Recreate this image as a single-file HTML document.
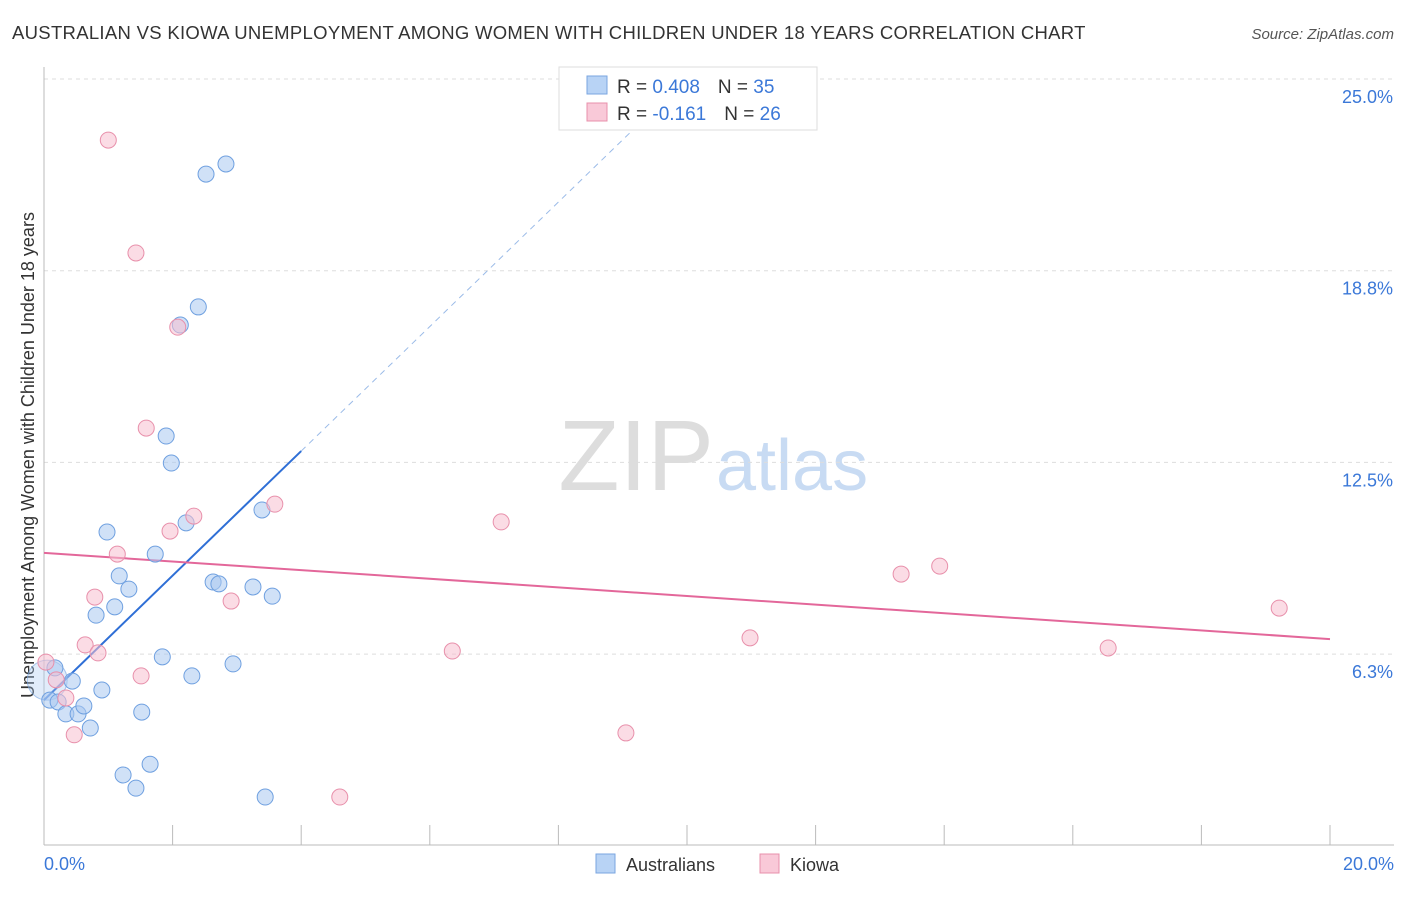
<!DOCTYPE html>
<html><head><meta charset="utf-8"><style>
body{margin:0;background:#fff;font-family:"Liberation Sans",sans-serif}
svg text{font-family:"Liberation Sans",sans-serif}
</style></head><body>
<svg id="chart" width="1406" height="892">
<text x="12" y="39" font-size="18.5" letter-spacing="0.3" fill="#333">AUSTRALIAN VS KIOWA UNEMPLOYMENT AMONG WOMEN WITH CHILDREN UNDER 18 YEARS CORRELATION CHART</text>
<text x="1394" y="39" font-size="15" fill="#555" text-anchor="end" font-style="italic">Source: ZipAtlas.com</text>
<text x="714" y="490" font-size="100" fill="#ddd" text-anchor="end" font-family="Liberation Serif">ZIP</text>
<text x="716" y="490" font-size="72" fill="#c8dbf3">atlas</text>
<g id="grid"></g>
<line x1="44" y1="67" x2="44" y2="845" stroke="#bbb"/>
<line x1="44" y1="845" x2="1394" y2="845" stroke="#bbb"/>
<g id="xticks"></g>
<text x="44" y="870" font-size="18" fill="#3b78d8">0.0%</text>
<text x="1394" y="870" font-size="18" fill="#3b78d8" text-anchor="end">20.0%</text>
<text transform="translate(34,455) rotate(-90)" font-size="18" fill="#333" text-anchor="middle">Unemployment Among Women with Children Under 18 years</text>
<g id="trends"></g>
<g id="points"></g>
<g>
<rect x="559" y="67" width="258" height="63" fill="#fff" stroke="#ddd"/>
<rect x="587" y="76" width="20" height="18" fill="#b8d3f5" stroke="#7aa6e0"/>
<text x="617" y="93" font-size="19" fill="#333">R = <tspan fill="#3b78d8">0.408</tspan><tspan dx="18">N = </tspan><tspan fill="#3b78d8">35</tspan></text>
<rect x="587" y="103" width="20" height="18" fill="#f9c9d8" stroke="#e890ab"/>
<text x="617" y="120" font-size="19" fill="#333">R = <tspan fill="#3b78d8">-0.161</tspan><tspan dx="18">N = </tspan><tspan fill="#3b78d8">26</tspan></text>
</g>
<g>
<rect x="596" y="854" width="19" height="19" fill="#b8d3f5" stroke="#7aa6e0"/>
<text x="626" y="871" font-size="18" fill="#333">Australians</text>
<rect x="760" y="854" width="19" height="19" fill="#f9c9d8" stroke="#e890ab"/>
<text x="790" y="871" font-size="18" fill="#333">Kiowa</text>
</g>
</svg>
<script>
const blueX=[0.09,0.17,0.22,0.34,0.44,0.53,0.62,0.72,0.81,0.90,0.98,1.10,1.17,1.23,1.32,1.43,1.52,1.65,1.73,1.84,1.90,1.98,2.12,2.21,2.30,2.40,2.52,2.63,2.72,2.83,2.94,3.25,3.39,3.44,3.55];
const blueY=[4.75,5.80,4.69,4.30,5.37,4.30,4.56,3.84,7.52,5.08,10.23,7.79,8.80,2.31,8.37,1.88,4.36,2.66,9.51,6.16,13.36,12.48,16.98,10.53,5.54,17.57,21.90,8.60,8.54,22.23,5.93,8.44,10.95,1.59,8.14];
const pinkX=[0.03,0.19,0.34,0.47,0.64,0.79,0.84,1.00,1.14,1.43,1.51,1.59,1.96,2.08,2.33,2.91,3.59,4.60,6.35,7.11,9.05,10.98,13.33,13.93,16.55,19.21];
const pinkY=[5.99,5.41,4.82,3.62,6.55,8.11,6.29,23.01,9.51,19.33,5.54,13.62,10.26,16.91,10.75,7.98,11.14,1.59,6.35,10.56,3.68,6.78,8.86,9.12,6.45,7.75];
const yTicks=[25.0,18.8,12.5,6.3];
const yTickVals=[25,18.75,12.5,6.25];
const xTicks=[0,2,4,6,8,10,12,14,16,18,20];
const blueTrend=[4.75,2.03];
const pinkTrend=[9.55,6.74];
const NS='http://www.w3.org/2000/svg';
const sx=v=>44+v*64.3, sy=v=>845.8-v*30.67;
function mk(t,a,p){const e=document.createElementNS(NS,t);for(const k in a)e.setAttribute(k,a[k]);p.appendChild(e);return e;}
const grid=document.getElementById('grid');
yTickVals.forEach((v,i)=>{
 const l=mk('line',{x1:44,x2:1394,y1:sy(v),y2:sy(v),stroke:'#ddd','stroke-dasharray':'4,4'},grid);
 
 
 const t=mk('text',{x:1393,y:sy(v)+24,'font-size':18,fill:'#3b78d8','text-anchor':'end'},grid);
 t.textContent=yTicks[i].toFixed(1)+'%';
 
 
});
const xt=document.getElementById('xticks');
xTicks.forEach(v=>{
 const l=mk('line',{x1:sx(v),x2:sx(v),y1:825,y2:845,stroke:'#bbb'},xt);
 
 
});
const tr=document.getElementById('trends');
let l=mk('line',{x1:sx(0),y1:sy(blueTrend[0]),x2:sx(4),y2:sy(blueTrend[0]+4*blueTrend[1]),stroke:'#2f6fd6','stroke-width':2},tr);


const xe=(24.5-blueTrend[0])/blueTrend[1];
l=mk('line',{x1:sx(4),y1:sy(blueTrend[0]+4*blueTrend[1]),x2:sx(xe),y2:sy(24.5),stroke:'#9bbbe8','stroke-width':1,'stroke-dasharray':'6,5'},tr);


l=mk('line',{x1:sx(0),y1:sy(pinkTrend[0]),x2:sx(20),y2:sy(pinkTrend[1]),stroke:'#e3679a','stroke-width':2},tr);


const pts=document.getElementById('points');
const big=mk('circle',{cx:sx(0.05),cy:sy(5.4),r:20,fill:'rgba(169,200,240,0.35)',stroke:'rgba(111,160,224,0.6)'},pts);


blueX.forEach((x,i)=>{
 const c=mk('circle',{cx:sx(x),cy:sy(blueY[i]),r:8,fill:'rgba(169,200,240,0.55)',stroke:'#6fa0e0','stroke-width':1},pts);
 
 
});
pinkX.forEach((x,i)=>{
 const c=mk('circle',{cx:sx(x),cy:sy(pinkY[i]),r:8,fill:'rgba(247,191,208,0.55)',stroke:'#e890ab','stroke-width':1},pts);
 
 
});
</script>
</body></html>
